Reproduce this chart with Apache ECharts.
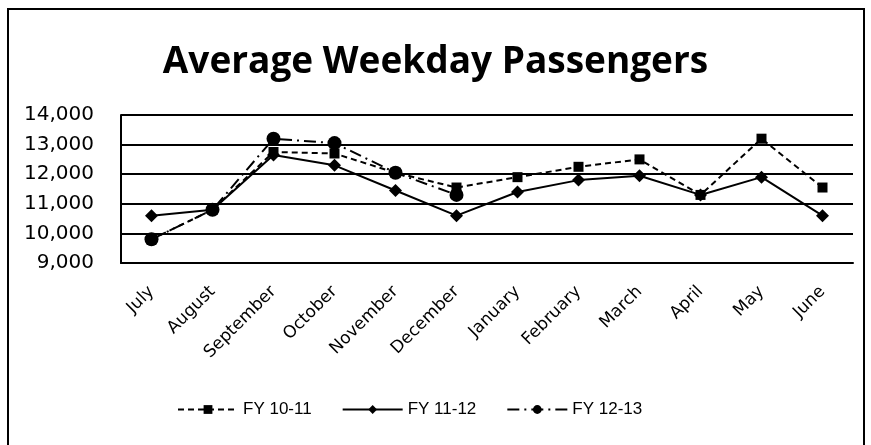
<!DOCTYPE html>
<html>
<head>
<meta charset="utf-8">
<script src="https://cdn.jsdelivr.net/npm/echarts@6/dist/echarts.min.js"></script>
<style>
  html, body { margin: 0; padding: 0; background: #fff; }
  #chart { width: 871px; height: 445px; }
</style>
</head>
<body>
<div id="chart"></div>
<script>
// 月份
var months = ["July", "August", "September", "October", "November", "December",
  "January", "February", "March", "April", "May", "June"];
// 各财年平均工作日客流
var fy1011 = [9800, 10800, 12750, 12700, 12050, 11550, 11900, 12250, 12500, 11300, 13200, 11550];
var fy1112 = [10600, 10800, 12650, 12300, 11450, 10600, 11400, 11800, 11950, 11300, 11900, 10600];
var fy1213 = [9800, 10800, 13200, 13050, 12050, 11300, null, null, null, null, null, null];
var yTicks = [9000, 10000, 11000, 12000, 13000, 14000];

var chart = echarts.init(document.getElementById("chart"));

var option = {
  backgroundColor: "#fff",
  animation: false,
  title: {
    text: "Average Weekday Passengers",
    left: "center",
    top: 39,
    textStyle: {
      fontFamily: "Open Sans",
      fontWeight: "bold",
      fontSize: 37,
      color: "#000"
    }
  },
  graphic: [
    {
      type: "rect",
      shape: { x: 8, y: 9, width: 856, height: 440 },
      style: { fill: "none", stroke: "#000", lineWidth: 2 },
      silent: true
    }
  ],
  legend: {
    top: 396,
    left: 172,
    itemWidth: 60,
    itemHeight: 11,
    itemGap: 30,
    textStyle: { fontFamily: "Liberation Sans", fontSize: 17, color: "#000" },
    data: ["FY 10-11", "FY 11-12", "FY 12-13"]
  },
  grid: { left: 121, right: 18, top: 115, bottom: 182 },
  xAxis: {
    type: "category",
    data: months,
    boundaryGap: true,
    axisLine: { lineStyle: { color: "#000", width: 2 } },
    axisTick: { show: false },
    axisLabel: {
      rotate: 45,
      fontFamily: "DejaVu Sans",
      fontSize: 17,
      color: "#000",
      margin: 26
    }
  },
  yAxis: {
    type: "value",
    min: yTicks[0],
    max: yTicks[yTicks.length - 1],
    interval: 1000,
    axisLine: { show: true, lineStyle: { color: "#000", width: 2 } },
    axisTick: { show: false },
    axisLabel: {
      fontFamily: "DejaVu Sans",
      fontSize: 20,
      color: "#000",
      margin: 27,
      formatter: function (v) { return v.toLocaleString("en-US"); }
    },
    splitLine: { lineStyle: { color: "#000", width: 2 } }
  },
  series: [
    {
      name: "FY 10-11",
      type: "line",
      data: fy1011,
      symbol: "rect",
      symbolSize: 10,
      itemStyle: { color: "#000" },
      lineStyle: { color: "#000", width: 2, type: [6, 4] }
    },
    {
      name: "FY 11-12",
      type: "line",
      data: fy1112,
      symbol: "diamond",
      symbolSize: 13,
      itemStyle: { color: "#000" },
      lineStyle: { color: "#000", width: 2 }
    },
    {
      name: "FY 12-13",
      type: "line",
      data: fy1213,
      symbol: "circle",
      symbolSize: 14,
      itemStyle: { color: "#000" },
      lineStyle: { color: "#000", width: 2, type: [12, 5, 2, 5] }
    }
  ]
};

chart.setOption(option);
</script>
</body>
</html>
